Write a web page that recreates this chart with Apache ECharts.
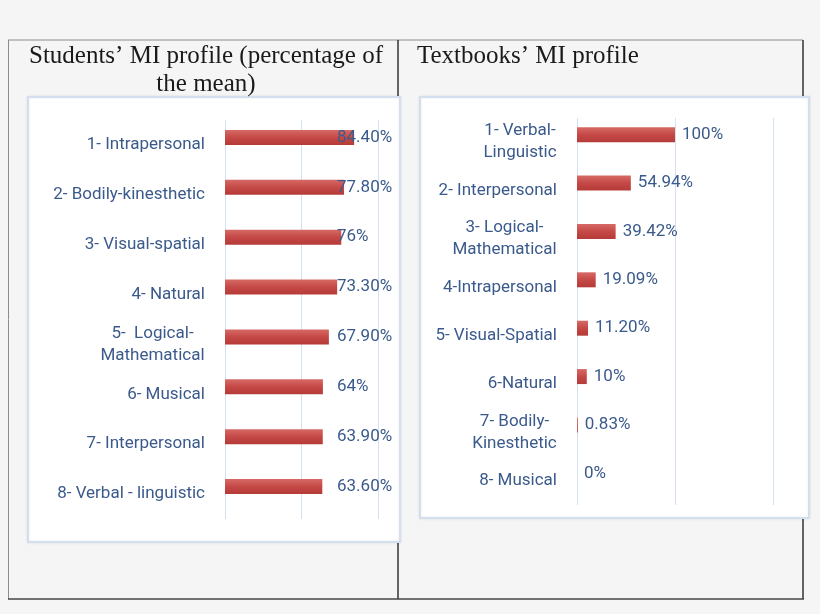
<!DOCTYPE html>
<html><head><meta charset="utf-8">
<script src="https://cdn.jsdelivr.net/npm/echarts@6/dist/echarts.min.js"></script>
<style>html,body{margin:0;padding:0;background:#f5f5f5}#c{width:820px;height:614px}</style>
</head><body><div id="c"></div>
<script>
// ---- data ----
const studentCategories = ['1- Intrapersonal','2- Bodily-kinesthetic','3- Visual-spatial','4- Natural','5-  Logical-\nMathematical','6- Musical','7- Interpersonal','8- Verbal - linguistic'];
const studentValues = [84.4, 77.8, 76, 73.3, 67.9, 64, 63.9, 63.6];
const studentLabels = ['84.40%','77.80%','76%','73.30%','67.90%','64%','63.90%','63.60%'];
const studentAxis = {min: 0, max: 100, interval: 50};

const textbookCategories = ['1- Verbal-\nLinguistic','2- Interpersonal','3- Logical-\nMathematical','4-Intrapersonal','5- Visual-Spatial','6-Natural','7- Bodily-\nKinesthetic','8- Musical'];
const textbookValues = [100, 54.94, 39.42, 19.09, 11.2, 10, 0.83, 0];
const textbookLabels = ['100%','54.94%','39.42%','19.09%','11.20%','10%','0.83%','0%'];
const textbookAxis = {min: 0, max: 200, interval: 100};

const titleLeft = 'Students\u2019 MI profile (percentage of\nthe mean)';
const titleRight = 'Textbooks\u2019 MI profile';

// ---- style ----
const FS = 17, FF = 'Roboto', LC = '#3b5a8c';
const ctx = document.createElement('canvas').getContext('2d');
ctx.font = FS + 'px ' + FF;
function catLabel(cats) {
  const rich = {};
  cats.forEach((c, i) => {
    if (c.indexOf('\n') >= 0) {
      const w = Math.max(...c.split('\n').map(s => ctx.measureText(s).width));
      rich['r' + i] = {width: Math.ceil(w), align: 'center', fontSize: FS, fontFamily: FF, color: LC, lineHeight: 22};
    }
  });
  return {
    color: LC, fontSize: FS, fontFamily: FF, lineHeight: 22, margin: 20,
    formatter: (v, i) => v.indexOf('\n') >= 0 ? v.split('\n').map(s => '{r' + i + '|' + s + '}').join('\n') : v,
    rich
  };
}
const barColor = new echarts.graphic.LinearGradient(0, 0, 0, 1, [
  {offset: 0, color: '#d66a66'}, {offset: 0.5, color: '#c54946'}, {offset: 1, color: '#b53b38'}
]);
const gridLine = {show: true, lineStyle: {color: '#d6e1ef', width: 1}};
function xAx(idx, a) {
  return {type: 'value', gridIndex: idx, min: a.min, max: a.max, interval: a.interval,
    axisLabel: {show: false}, axisLine: {show: false}, axisTick: {show: false}, splitLine: gridLine};
}
function yAx(idx, cats) {
  return {type: 'category', gridIndex: idx, data: cats, inverse: true,
    axisLine: {show: false}, axisTick: {show: false}, splitLine: {show: false}, axisLabel: catLabel(cats)};
}
const labelText = {color: LC, fontSize: FS, fontFamily: FF};

const chart = echarts.init(document.getElementById('c'));
chart.setOption({
  backgroundColor: '#f5f5f5',
  animation: false,
  graphic: {elements: [
    {type: 'line', z: -20, shape: {x1: 8, y1: 40, x2: 803, y2: 40}, style: {stroke: '#8c8c8c', lineWidth: 1}},
    {type: 'line', z: -20, shape: {x1: 8.5, y1: 40, x2: 8.5, y2: 599}, style: {stroke: '#8c8c8c', lineWidth: 1}},
    {type: 'line', z: -20, shape: {x1: 398, y1: 40, x2: 398, y2: 599}, style: {stroke: '#333', lineWidth: 1.5}},
    {type: 'line', z: -20, shape: {x1: 803, y1: 40, x2: 803, y2: 599}, style: {stroke: '#333', lineWidth: 1.5}},
    {type: 'line', z: -20, shape: {x1: 8, y1: 599, x2: 804, y2: 599}, style: {stroke: '#444', lineWidth: 1.5}},
    {type: 'rect', z: -10, shape: {x: 28, y: 97, width: 372, height: 445},
      style: {fill: '#fff', stroke: '#d3dfee', lineWidth: 2, shadowBlur: 3, shadowColor: 'rgba(0,0,0,0.08)'}},
    {type: 'rect', z: -10, shape: {x: 420, y: 97, width: 389, height: 421},
      style: {fill: '#fff', stroke: '#d3dfee', lineWidth: 2, shadowBlur: 3, shadowColor: 'rgba(0,0,0,0.08)'}},
    {type: 'text', z: 5, x: 206, y: 70, style: {text: titleLeft, fill: '#1a1a1a', font: '25px "Liberation Serif"', align: 'center', verticalAlign: 'middle', lineHeight: 28}},
    {type: 'text', z: 5, x: 417, y: 56, style: {text: titleRight, fill: '#1a1a1a', font: '25px "Liberation Serif"', align: 'left', verticalAlign: 'middle', lineHeight: 28}}
  ]},
  grid: [
    {left: 225, top: 120, width: 153, height: 399},
    {left: 577, top: 118, width: 196, height: 387}
  ],
  xAxis: [xAx(0, studentAxis), xAx(1, textbookAxis)],
  yAxis: [yAx(0, studentCategories), yAx(1, textbookCategories)],
  series: [
    {type: 'bar', xAxisIndex: 0, yAxisIndex: 0, data: studentValues, barWidth: 15, barGap: '0%',
      itemStyle: {color: barColor},
      label: Object.assign({show: true, position: 'insideLeft', offset: [107, 0], formatter: p => studentLabels[p.dataIndex]}, labelText)},
    {type: 'bar', xAxisIndex: 0, yAxisIndex: 0, data: [], barWidth: 15, barGap: '0%'},
    {type: 'bar', xAxisIndex: 1, yAxisIndex: 1, data: textbookValues, barWidth: 15, barGap: '0%',
      itemStyle: {color: barColor},
      label: Object.assign({show: true, position: 'right', distance: 7, formatter: p => textbookLabels[p.dataIndex]}, labelText)},
    {type: 'bar', xAxisIndex: 1, yAxisIndex: 1, data: [], barWidth: 15, barGap: '0%'}
  ]
});
</script></body></html>
